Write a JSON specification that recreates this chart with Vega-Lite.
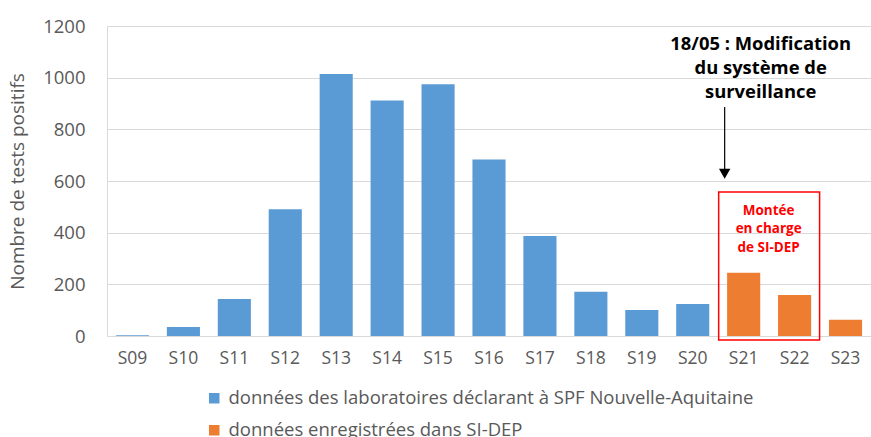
{
  "$schema": "https://vega.github.io/schema/vega-lite/v6.json",
  "width": 764,
  "height": 310,
  "autosize": "none",
  "padding": {"left": 107, "top": 26, "right": 0, "bottom": 101},
  "background": "white",
  "config": {
    "font": "Open Sans",
    "view": {"stroke": null}
  },
  "datasets": {
    "bars": [
      {"semaine": "S09", "tests": 3, "source": "données des laboratoires déclarant à SPF Nouvelle-Aquitaine"},
      {"semaine": "S10", "tests": 35, "source": "données des laboratoires déclarant à SPF Nouvelle-Aquitaine"},
      {"semaine": "S11", "tests": 143, "source": "données des laboratoires déclarant à SPF Nouvelle-Aquitaine"},
      {"semaine": "S12", "tests": 491, "source": "données des laboratoires déclarant à SPF Nouvelle-Aquitaine"},
      {"semaine": "S13", "tests": 1014, "source": "données des laboratoires déclarant à SPF Nouvelle-Aquitaine"},
      {"semaine": "S14", "tests": 912, "source": "données des laboratoires déclarant à SPF Nouvelle-Aquitaine"},
      {"semaine": "S15", "tests": 975, "source": "données des laboratoires déclarant à SPF Nouvelle-Aquitaine"},
      {"semaine": "S16", "tests": 683, "source": "données des laboratoires déclarant à SPF Nouvelle-Aquitaine"},
      {"semaine": "S17", "tests": 387, "source": "données des laboratoires déclarant à SPF Nouvelle-Aquitaine"},
      {"semaine": "S18", "tests": 171, "source": "données des laboratoires déclarant à SPF Nouvelle-Aquitaine"},
      {"semaine": "S19", "tests": 101, "source": "données des laboratoires déclarant à SPF Nouvelle-Aquitaine"},
      {"semaine": "S20", "tests": 124, "source": "données des laboratoires déclarant à SPF Nouvelle-Aquitaine"},
      {"semaine": "S21", "tests": 245, "source": "données enregistrées dans SI-DEP"},
      {"semaine": "S22", "tests": 159, "source": "données enregistrées dans SI-DEP"},
      {"semaine": "S23", "tests": 63, "source": "données enregistrées dans SI-DEP"}
    ],
    "arrow": [{"semaine": "S21", "top": 886, "bottom": 634, "head": 628}],
    "box": [{"start": "S21", "end": "S22", "low": -15, "high": 557}],
    "note": [{"semaine": "S21", "y": 1130, "label": "18/05 : Modification\ndu système de\nsurveillance"}],
    "boxnote": [{"semaine": "S21", "y": 484, "label": "Montée\nen charge\nde SI-DEP"}]
  },
  "layer": [
    {
      "data": {"name": "bars"},
      "mark": {"type": "bar"},
      "encoding": {
        "x": {
          "field": "semaine", "type": "nominal", "sort": null,
          "scale": {"paddingInner": 0.35, "paddingOuter": 0.175},
          "axis": {
            "title": null, "labelAngle": 0, "ticks": false,
            "domainColor": "#D9D9D9", "labelColor": "#595959",
            "labelFontSize": 17.5, "labelPadding": 13, "labelFont": "Open Sans"
          }
        },
        "y": {
          "field": "tests", "type": "quantitative",
          "scale": {"domain": [0, 1200], "nice": false},
          "axis": {
            "title": "Nombre de tests positifs", "values": [0, 200, 400, 600, 800, 1000, 1200],
            "format": "d",
            "ticks": false, "domain": true, "domainColor": "#D9D9D9",
            "gridColor": "#D9D9D9", "labelColor": "#595959", "labelFontSize": 18.5,
            "labelPadding": 22, "titleColor": "#595959", "titleFontSize": 19,
            "titleFontWeight": "normal", "titlePadding": 15, "labelFont": "Open Sans", "titleFont": "Open Sans"
          }
        },
        "color": {
          "field": "source", "type": "nominal",
          "scale": {
            "domain": ["données des laboratoires déclarant à SPF Nouvelle-Aquitaine", "données enregistrées dans SI-DEP"],
            "range": ["#5B9BD5", "#ED7D31"]
          },
          "legend": {
            "title": null, "orient": "none", "direction": "vertical",
            "legendX": 98, "legendY": 363, "symbolType": "square", "symbolSize": 110,
            "symbolStrokeWidth": 0, "labelFontSize": 18.5, "labelColor": "#595959",
            "rowPadding": 13, "labelOffset": 5, "labelFont": "Open Sans", "labelLimit": 700
          }
        }
      }
    },
    {
      "data": {"name": "box"},
      "mark": {"type": "rect", "fill": null, "stroke": "#FF0000", "strokeWidth": 1.5, "xOffset": -25, "x2Offset": 25},
      "encoding": {
        "x": {"field": "start", "type": "nominal", "sort": null},
        "x2": {"field": "end"},
        "y": {"field": "low", "type": "quantitative"},
        "y2": {"field": "high"}
      }
    },
    {
      "data": {"name": "arrow"},
      "mark": {"type": "rule", "color": "#000000", "strokeWidth": 1.2, "xOffset": -19},
      "encoding": {
        "x": {"field": "semaine", "type": "nominal", "sort": null},
        "y": {"field": "top", "type": "quantitative"},
        "y2": {"field": "bottom"}
      }
    },
    {
      "data": {"name": "arrow"},
      "mark": {"type": "point", "shape": "triangle-down", "filled": true, "color": "#000000", "size": 130, "opacity": 1, "xOffset": -19},
      "encoding": {
        "x": {"field": "semaine", "type": "nominal", "sort": null},
        "y": {"field": "head", "type": "quantitative"}
      }
    },
    {
      "data": {"name": "note"},
      "mark": {"type": "text", "fontWeight": "bold", "fontSize": 18.4, "lineHeight": 24, "lineBreak": "\n", "align": "center", "baseline": "middle", "color": "#000000", "xOffset": 17, "font": "Open Sans"},
      "encoding": {
        "x": {"field": "semaine", "type": "nominal", "sort": null},
        "y": {"field": "y", "type": "quantitative"},
        "text": {"field": "label"}
      }
    },
    {
      "data": {"name": "boxnote"},
      "mark": {"type": "text", "fontWeight": "bold", "fontSize": 13.5, "lineHeight": 18.5, "lineBreak": "\n", "align": "center", "baseline": "middle", "color": "#FF0000", "xOffset": 25, "font": "Open Sans"},
      "encoding": {
        "x": {"field": "semaine", "type": "nominal", "sort": null},
        "y": {"field": "y", "type": "quantitative"},
        "text": {"field": "label"}
      }
    }
  ]
}
